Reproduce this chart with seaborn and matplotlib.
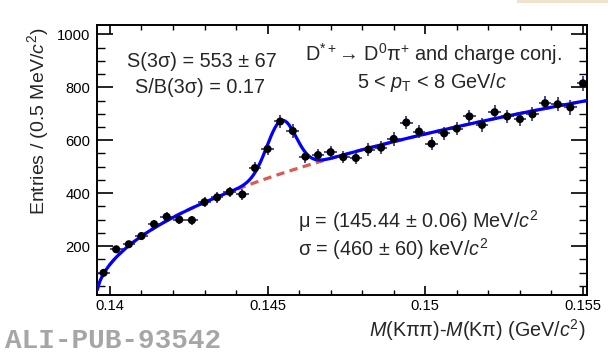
import numpy as np
import pandas as pd
import matplotlib
matplotlib.use("Agg")
import matplotlib.pyplot as plt
import seaborn as sns
from matplotlib.ticker import MultipleLocator, FixedLocator, FixedFormatter
from matplotlib.patches import Rectangle

# ---------------- data ----------------
mass = [0.1398, 0.1402, 0.1406, 0.1410, 0.1414, 0.1418, 0.1422, 0.1426,
        0.1430, 0.1434, 0.1438, 0.1442, 0.1446, 0.1450, 0.1454, 0.1458,
        0.1462, 0.1466, 0.1470, 0.1474, 0.1478, 0.1482, 0.1486, 0.1490,
        0.1494, 0.1498, 0.1502, 0.1506, 0.1510, 0.1514, 0.1518, 0.1522,
        0.1526, 0.1530, 0.1534, 0.1538, 0.1542, 0.1546, 0.1550]
entries = [99, 188, 207, 238, 283, 311, 300, 298,
           366, 384, 405, 395, 495, 567, 671, 635,
           538, 544, 555, 536, 533, 565, 572, 605,
           667, 633, 587, 626, 644, 690, 658, 706,
           690, 680, 698, 740, 736, 724, 815]
entries_err = [10, 14, 14, 15, 17, 18, 17, 17,
               19, 20, 20, 20, 22, 24, 26, 25,
               23, 23, 24, 23, 23, 24, 24, 25,
               26, 25, 24, 25, 25, 26, 26, 27,
               26, 26, 26, 27, 27, 27, 29]
half_bin = 0.0002

# fit model parameters (background: threshold function, signal: gaussian)
M_PI = 0.13957
BKG_A = 6300.0
BKG_B = -3.0
SIG_AMP = 200.0
MU = 0.14544
SIGMA = 0.00046

xtick_vals = [0.140, 0.145, 0.150, 0.155]
xtick_labels = ["0.14", "0.145", "0.15", "0.155"]
ytick_vals = [200, 400, 600, 800, 1000]
ytick_labels = ["200", "400", "600", "800", "1000"]

# ---------------- style ----------------
sns.set_theme(style="ticks")
plt.rcParams['font.family'] = ['Liberation Sans', 'DejaVu Sans']
plt.rcParams['mathtext.fontset'] = 'custom'
plt.rcParams['mathtext.rm'] = 'Liberation Sans'
plt.rcParams['mathtext.it'] = 'Liberation Sans:italic'
plt.rcParams['mathtext.bf'] = 'Liberation Sans:bold'

fig = plt.figure(figsize=(6.08, 3.54), dpi=100)
fig.patch.set_facecolor('white')
ax = fig.add_axes([0.160, 0.168, 0.805, 0.761])

df = pd.DataFrame({"mass": mass, "entries": entries, "err": entries_err})

xfit = np.linspace(0.1396, 0.15512, 800)
dm = np.clip(xfit - M_PI, 0, None)
bkg = BKG_A * np.sqrt(dm) * np.exp(BKG_B * dm)
total = bkg + SIG_AMP * np.exp(-0.5 * ((xfit - MU) / SIGMA) ** 2)
fit_df = pd.DataFrame({"x": xfit, "bkg": bkg, "total": total})

sns.lineplot(data=fit_df, x="x", y="bkg", ax=ax, color='#dc5a50', lw=2.3,
             linestyle=(0, (2.6, 1.7)), zorder=2)
sns.lineplot(data=fit_df, x="x", y="total", ax=ax, color='#0000ff', lw=2.3,
             zorder=3)
ax.errorbar(df["mass"], df["entries"], yerr=df["err"], xerr=half_bin,
            fmt='none', ecolor='#1a1a80', elinewidth=1.1, capsize=0, zorder=4)
sns.scatterplot(data=df, x="mass", y="entries", ax=ax, color='black', s=34,
                marker='o', edgecolor='none', linewidth=0, zorder=5)

ax.set_xlim(0.1396, 0.15512)
ax.set_ylim(17, 1035)
ax.set_xlabel("")
ax.set_ylabel("")

ax.xaxis.set_major_locator(FixedLocator(xtick_vals))
ax.xaxis.set_major_formatter(FixedFormatter(xtick_labels))
ax.xaxis.set_minor_locator(MultipleLocator(0.001))
ax.yaxis.set_major_locator(FixedLocator(ytick_vals))
ax.yaxis.set_major_formatter(FixedFormatter(ytick_labels))
ax.yaxis.set_minor_locator(MultipleLocator(50))

ax.tick_params(which='both', direction='in', top=True, right=True, colors='black')
ax.tick_params(axis='y', which='major', length=11.5, width=1.2, labelsize=10.6, pad=5)
ax.tick_params(axis='y', which='minor', length=5.8, width=1.0)
ax.tick_params(axis='x', which='major', length=6.5, width=1.2, labelsize=10.6, pad=3)
ax.tick_params(axis='x', which='minor', length=3.3, width=1.0)
for s in ax.spines.values():
    s.set_linewidth(1.4)
    s.set_color('black')
    s.set_visible(True)

tfs = 14.3
ax.text(0.213, 0.845, "S(3σ) = 553 ± 67", transform=ax.transAxes, ha='center',
        va='baseline', fontsize=tfs)
ax.text(0.210, 0.747, "S/B(3σ) = 0.17", transform=ax.transAxes, ha='center',
        va='baseline', fontsize=tfs)
ax.text(0.686, 0.868, r"D$^{*+}$→ D$^{0}$π$^{+}$ and charge conj.",
        transform=ax.transAxes, ha='center', va='baseline', fontsize=tfs)
ax.text(0.683, 0.765, r"5 < $p_{\mathrm{T}}$ < 8 GeV/$c$",
        transform=ax.transAxes, ha='center', va='baseline', fontsize=tfs)
ax.text(0.410, 0.246, r"μ = (145.44 ± 0.06) MeV/$c^{2}$",
        transform=ax.transAxes, ha='left', va='baseline', fontsize=tfs)
ax.text(0.410, 0.143, r"σ = (460 ± 60) keV/$c^{2}$",
        transform=ax.transAxes, ha='left', va='baseline', fontsize=tfs)

ax.text(-0.121, 0.99, r"Entries / (0.5 MeV/$c^{2}$)", transform=ax.transAxes,
        rotation=90, ha='center', va='top', fontsize=14.0)
ax.text(0.997, -0.158, r"$M$(Kππ)-$M$(Kπ) (GeV/$c^{2}$)", transform=ax.transAxes,
        ha='right', va='baseline', fontsize=14.2)

fig.text(0.008, 0.017, "ALI-PUB-93542", family=['Liberation Mono', 'DejaVu Sans Mono'],
         fontweight='bold', color='#a6a6a6', fontsize=20, ha='left', va='baseline')
fig.patches.append(Rectangle((517 / 608, 1 - 3 / 354), 91 / 608, 3 / 354,
                             transform=fig.transFigure, facecolor='#efe3cc',
                             edgecolor='none', zorder=0))

fig.savefig("out.png", dpi=100, facecolor='white')
